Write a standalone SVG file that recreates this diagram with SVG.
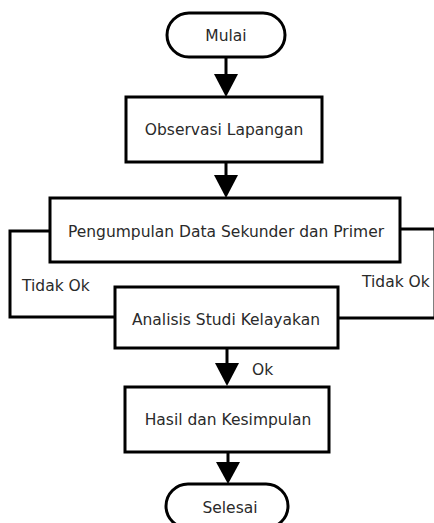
<svg xmlns="http://www.w3.org/2000/svg" width="434" height="523" viewBox="0 0 434 523">
<style>
.box{fill:#fff;stroke:#000;stroke-width:3}
.ln{fill:none;stroke:#000;stroke-width:3}
.ah{fill:#000}
text{font-family:"DejaVu Sans","Liberation Sans",sans-serif;font-size:15.5px;fill:#2a2a2a;text-anchor:middle}
.lbl{text-anchor:start}
</style>
<rect width="434" height="523" fill="#fff"/>
<g id="connectors">
<line class="ln" x1="226" y1="57" x2="226" y2="75"/>
<polygon class="ah" points="214,74 238,74 226,97"/>
<line class="ln" x1="226" y1="162" x2="226" y2="177"/>
<polygon class="ah" points="214,175 238,175 226,198"/>
<polyline class="ln" points="50,231 10,231 10,317 115,317"/>
<polyline class="ln" points="400,229 435,229 435,318 338,318"/>
<line class="ln" x1="227" y1="348" x2="227" y2="365"/>
<polygon class="ah" points="215,363 239,363 227,386"/>
<line class="ln" x1="228" y1="452" x2="228" y2="464"/>
<polygon class="ah" points="216,462 240,462 228,484"/>
<text class="lbl" x="22" y="291">Tidak Ok</text>
<text class="lbl" x="362" y="287">Tidak Ok</text>
<text class="lbl" x="252" y="375">Ok</text>
</g>
<g id="mulai">
<rect class="box" x="167" y="13" width="118" height="44" rx="22"/>
<text x="226" y="41">Mulai</text>
</g>
<g id="observasi">
<rect class="box" x="126" y="97" width="196" height="65"/>
<text x="224" y="135">Observasi Lapangan</text>
</g>
<g id="pengumpulan">
<rect class="box" x="50" y="198" width="350" height="64"/>
<text x="226" y="237">Pengumpulan Data Sekunder dan Primer</text>
</g>
<g id="analisis">
<rect class="box" x="115" y="287" width="223" height="61"/>
<text x="226" y="325">Analisis Studi Kelayakan</text>
</g>
<g id="hasil">
<rect class="box" x="125" y="387" width="204" height="65"/>
<text x="228" y="425">Hasil dan Kesimpulan</text>
</g>
<g id="selesai">
<rect class="box" x="166" y="484" width="122" height="44" rx="22"/>
<text x="230" y="513">Selesai</text>
</g>
</svg>
